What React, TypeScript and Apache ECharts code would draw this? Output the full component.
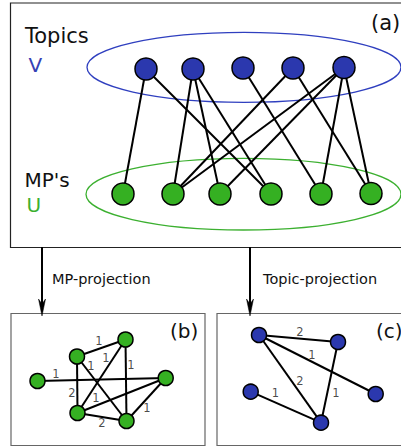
import React, { useEffect, useRef } from "react";
import * as echarts from "echarts";

// (a) bipartite network: topic nodes (V) and MP nodes (U)
const topicNodes: number[][] = [[146, 69], [193, 69], [243, 68], [293, 68], [344, 67.5]];
const mpNodes: number[][] = [[123, 194], [173, 194], [220, 194], [271, 194], [321, 194], [371, 193.5]];
// [topic index, mp index]
const bipartiteEdges: number[][] = [
  [0, 0], [0, 3], [1, 1], [1, 2], [1, 3], [2, 4], [3, 1], [3, 5], [4, 1], [4, 2], [4, 4], [4, 5],
];

// (b) MP projection
const mpProjNodes: number[][] = [[37.5, 381], [77, 356.5], [125.5, 339.5], [77.5, 413], [126.5, 421], [165.7, 378]];
// [source, target, weight]
const mpProjEdges: number[][] = [
  [0, 5, 1], [1, 2, 1], [1, 3, 2], [1, 4, 1], [2, 3, 1], [2, 4, 1], [3, 5, 1], [3, 4, 2], [4, 5, 1],
];
const mpProjLabelPos: number[][] = [
  [56, 374], [99, 341], [72, 393], [91, 366], [106, 358], [131, 364.5], [96, 398], [102, 422.5], [147, 408],
];

// (c) Topic projection
const topicProjNodes: number[][] = [[259, 335], [338, 342], [375.7, 394], [250.7, 391.7], [321, 422.7]];
const topicProjEdges: number[][] = [
  [0, 1, 2], [0, 2, 1], [0, 4, 2], [1, 4, 1], [3, 4, 1],
];
const topicProjLabelPos: number[][] = [
  [300, 332], [312, 355], [300, 381], [336, 393], [275.3, 393.3],
];

const BLUE = "#2b38ae";
const GREEN = "#35b022";
const FONT = "DejaVu Sans";

function graphSeries(nodes: number[][], colors: string[], links: { source: number; target: number }[], size: number) {
  return {
    type: "graph",
    coordinateSystem: "cartesian2d",
    layout: "none",
    silent: true,
    z: 3,
    symbol: "circle",
    symbolSize: size,
    data: nodes.map((p, i) => ({
      value: p,
      itemStyle: { color: colors[i], borderColor: "#000", borderWidth: 1.5 },
    })),
    links,
    lineStyle: { color: "#000", width: 2, opacity: 1, curveness: 0 },
    label: { show: false },
    emphasis: { disabled: true },
  };
}

function labelSeries(pos: number[][], edges: number[][]) {
  return {
    type: "scatter",
    silent: true,
    z: 5,
    symbolSize: 0,
    itemStyle: { color: "transparent" },
    data: pos.map((p, i) => [p[0], p[1], edges[i][2]]),
    label: {
      show: true,
      position: "inside",
      formatter: (p: any) => String(p.value[2]),
      color: "#1a1a1a",
      textBorderWidth: 0,
      textBorderColor: "transparent",
      fontSize: 11.5,
      fontFamily: FONT,
    },
  };
}

function txt(text: string, x: number, y: number, size: number, color: string) {
  return {
    type: "text",
    x,
    y,
    z: 10,
    style: { text, fill: color, fontSize: size, fontFamily: FONT, align: "left", verticalAlign: "middle" },
  };
}

function arrow(x: number, y0: number, y1: number) {
  return [
    { type: "line", z: 4, shape: { x1: x, y1: y0, x2: x, y2: y1 - 10 }, style: { stroke: "#000", lineWidth: 2 } },
    {
      type: "polygon",
      z: 4,
      shape: { points: [[x, y1], [x - 3.5, y1 - 17], [x, y1 - 12], [x + 3.5, y1 - 17]] },
      style: { fill: "#000", stroke: "#000", lineWidth: 0.5 },
    },
  ];
}

export default function App() {
  const ref = useRef<HTMLDivElement>(null);
  useEffect(() => {
    if (!ref.current) return;
    const chart = echarts.init(ref.current, undefined, { renderer: "svg" });

    const aNodes = [...topicNodes, ...mpNodes];
    const aColors = [...topicNodes.map(() => BLUE), ...mpNodes.map(() => GREEN)];
    const aLinks = bipartiteEdges.map(([t, m]) => ({ source: t, target: topicNodes.length + m }));
    const bLinks = mpProjEdges.map(([s, t]) => ({ source: s, target: t }));
    const cLinks = topicProjEdges.map(([s, t]) => ({ source: s, target: t }));

    chart.setOption({
      animation: false,
      grid: { left: 0, right: 0, top: 0, bottom: 0 },
      xAxis: { type: "value", min: 0, max: 401, show: false },
      yAxis: { type: "value", min: 0, max: 446, inverse: true, show: false },
      tooltip: { show: false },
      graphic: [
        // panel boxes
        { type: "rect", z: 0, shape: { x: 10.5, y: 3, width: 420, height: 244.5 }, style: { fill: "#fff", stroke: "#222", lineWidth: 1.2 } },
        { type: "rect", z: 0, shape: { x: 11, y: 313.5, width: 194, height: 132 }, style: { fill: "#fff", stroke: "#666", lineWidth: 1.2 } },
        { type: "rect", z: 0, shape: { x: 217, y: 313.5, width: 200, height: 132 }, style: { fill: "#fff", stroke: "#666", lineWidth: 1.2 } },
        // set ellipses
        { type: "ellipse", z: 1, shape: { cx: 244, cy: 67.3, rx: 157, ry: 35 }, style: { fill: "none", stroke: "#2f3fbf", lineWidth: 1.3 } },
        { type: "ellipse", z: 1, shape: { cx: 243.5, cy: 194.2, rx: 157.5, ry: 35.8 }, style: { fill: "none", stroke: "#3cb030", lineWidth: 1.3 } },
        // texts
        txt("Topics", 25, 36, 21, "#111"),
        txt("V", 28.5, 65, 20, "#3540b5"),
        txt("MP's", 24.5, 180, 20, "#111"),
        txt("U", 26.5, 205, 20, "#3cb030"),
        txt("(a)", 371, 23, 21, "#111"),
        txt("(b)", 170, 331, 20, "#111"),
        txt("(c)", 376, 331, 20, "#111"),
        txt("MP-projection", 52, 279, 14.5, "#111"),
        txt("Topic-projection", 263, 279, 14.5, "#111"),
        ...arrow(42, 247, 316),
        ...arrow(250, 247, 316),
      ],
      series: [
        graphSeries(aNodes, aColors, aLinks, 22),
        graphSeries(mpProjNodes, mpProjNodes.map(() => GREEN), bLinks, 15),
        graphSeries(topicProjNodes, topicProjNodes.map(() => BLUE), cLinks, 15),
        labelSeries(mpProjLabelPos, mpProjEdges),
        labelSeries(topicProjLabelPos, topicProjEdges),
      ],
    });
    return () => chart.dispose();
  }, []);
  return <div ref={ref} style={{ position: "absolute", left: 0, top: 0, width: 401, height: 446 }} />;
}
